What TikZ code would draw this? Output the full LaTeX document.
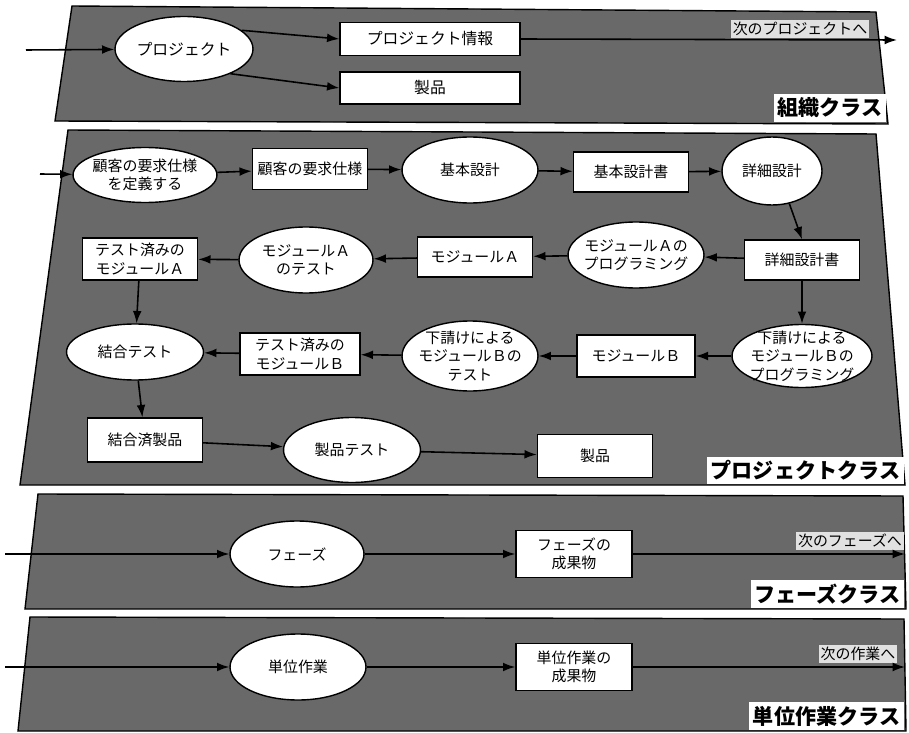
\documentclass[tikz,border=0pt]{standalone}
\usepackage{fontspec}
\setmainfont{Noto Sans CJK JP}
\usepackage{tikz}
\usetikzlibrary{shapes.geometric, arrows.meta}
\definecolor{screen}{RGB}{105,105,105}
\definecolor{screenlt}{RGB}{225,225,225}

\begin{document}
\begin{tikzpicture}[x=0.02cm, y=-0.02cm,
    act/.style={ellipse, draw, thick, fill=white, inner sep=-1.2mm, align=center,
                minimum width=2.72cm, minimum height=1.32cm,
                font=\fontsize{8.5}{10.5}\selectfont},
    prod/.style={rectangle, draw, thick, fill=white, inner sep=1pt, align=center,
                 minimum width=2.3cm, minimum height=0.84cm,
                 font=\fontsize{8.5}{10.5}\selectfont},
    flow/.style={-{Latex[length=7pt,width=5pt]}, line width=0.9pt},
    band/.style={fill=screen, draw=black, line width=0.8pt},
    cls/.style={fill=white, inner sep=2pt, anchor=south east,
                font=\fontsize{12}{14}\selectfont\bfseries},
    nxt/.style={fill=screenlt, inner sep=1pt, font=\fontsize{8.5}{9}\selectfont}]

\useasboundingbox (0,0) rectangle (909,733);

%% Class bands
\draw[band] (72,6) -- (876,12) -- (888,124) -- (55,121) -- cycle;
\draw[band] (68,130) -- (876,134) -- (905,485) -- (20,485) -- cycle;
\draw[band] (38,494) -- (903,496) -- (906,609) -- (25,609) -- cycle;
\draw[band] (30,617) -- (904,619) -- (906,731) -- (18,731) -- cycle;

%% ── 組織クラス ───────────────────────────────────────────────────────
\coordinate (projin)  at (26,50);
\coordinate (projout) at (897,40);
\node[act, minimum width=2.76cm, minimum height=1.3cm,
      font=\fontsize{9}{10}\selectfont] (proj) at (184,49) {プロジェクト};
\node[prod, minimum width=3.6cm, minimum height=0.66cm,
      font=\fontsize{9}{10}\selectfont] (pinfo) at (430,39) {プロジェクト情報};
\node[prod, minimum width=3.6cm, minimum height=0.64cm,
      font=\fontsize{9}{10}\selectfont] (pprod) at (430,88) {製品};
\node[nxt] (nxtproj) at (800,29) {次のプロジェクトへ};
\node[cls] (orgcls) at (886,122) {組織クラス};

\draw[flow] (projin) -- (proj);
\draw[flow] (proj.18) -- (pinfo.west);
\draw[flow] (proj.-28) -- (pprod.west);
\draw[flow] (pinfo.east) -- (projout);

%% ── プロジェクトクラス ───────────────────────────────────────────────
\coordinate (reqin) at (40,174);

%% row 1
\node[act, minimum width=2.88cm, minimum height=1.1cm] (req) at (145,175) {顧客の要求仕様\\を定義する};
\node[prod, minimum height=0.82cm] (reqdoc) at (310,169) {顧客の要求仕様};
\node[act] (bdes) at (470,170) {基本設計};
\node[prod, minimum height=0.8cm] (bdoc) at (631,172) {基本設計書};
\node[act, minimum width=2.0cm, minimum height=1.36cm] (ddes) at (772,171) {詳細設計};

%% row 2
\node[prod, minimum height=0.8cm] (ddoc) at (802,260) {詳細設計書};
\node[act] (progA) at (636,255) {モジュールＡの\\プログラミング};
\node[prod, minimum height=0.8cm] (modA) at (475,257) {モジュールＡ};
\node[act, minimum width=2.68cm] (testA) at (306,260) {モジュールＡ\\のテスト};
\node[prod] (doneA) at (140,259) {テスト済みの\\モジュールＡ};

%% row 3
\node[act, minimum width=2.74cm, minimum height=1.12cm] (integ) at (135,352) {結合テスト};
\node[prod, minimum width=2.4cm] (doneB) at (300,354) {テスト済みの\\モジュールＢ};
\node[act, minimum height=1.4cm] (testB) at (470,356) {下請けによる\\モジュールＢの\\テスト};
\node[prod, minimum width=2.36cm] (modB) at (636,356) {モジュールＢ};
\node[act, minimum width=2.8cm, minimum height=1.26cm] (progB) at (802,356) {下請けによる\\モジュールＢの\\プログラミング};

%% row 4
\node[prod, minimum height=0.88cm] (integd) at (145,440) {結合済製品};
\node[act, minimum width=2.74cm, minimum height=1.3cm] (ptest) at (352,450) {製品テスト};
\node[prod, minimum height=0.86cm] (prod) at (595,456) {製品};

\node[cls] (projcls) at (904,484) {プロジェクトクラス};

\draw[flow] (reqin) -- (req);
\draw[flow] (req) -- (reqdoc);
\draw[flow] (reqdoc) -- (bdes);
\draw[flow] (bdes) -- (bdoc);
\draw[flow] (bdoc) -- (ddes);
\draw[flow] (ddes.-62) -- (ddoc.north);
\draw[flow] (ddoc) -- (progA);
\draw[flow] (progA) -- (modA);
\draw[flow] (modA) -- (testA);
\draw[flow] (testA) -- (doneA);
\draw[flow] (doneA) -- (integ);
\draw[flow] (ddoc) -- (progB);
\draw[flow] (progB) -- (modB);
\draw[flow] (modB) -- (testB);
\draw[flow] (testB) -- (doneB);
\draw[flow] (doneB) -- (integ);
\draw[flow] (integ) -- (integd);
\draw[flow] (integd) -- (ptest);
\draw[flow] (ptest) -- (prod);

%% ── フェーズクラス ───────────────────────────────────────────────────
\coordinate (phin)  at (5,554);
\coordinate (phout) at (905,554);
\node[act, minimum width=2.68cm, font=\fontsize{8.5}{10}\selectfont] (phase) at (297,554) {フェーズ};
\node[prod, minimum width=2.32cm, minimum height=0.94cm,
      font=\fontsize{8.5}{10.5}\selectfont] (phres) at (574,554) {フェーズの\\成果物};
\node[nxt] (nxtph) at (850,541) {次のフェーズへ};
\node[cls] (phcls) at (904,608) {フェーズクラス};

\draw[flow] (phin) -- (phase);
\draw[flow] (phase) -- (phres);
\draw[flow] (phres) -- (phout);

%% ── 単位作業クラス ───────────────────────────────────────────────────
\coordinate (wkin)  at (5,667);
\coordinate (wkout) at (905,667);
\node[act, font=\fontsize{8.5}{10}\selectfont] (work) at (298,667) {単位作業};
\node[prod, minimum width=2.32cm, minimum height=0.94cm,
      font=\fontsize{8.5}{10.5}\selectfont] (wkres) at (574,667) {単位作業の\\成果物};
\node[nxt] (nxtwk) at (858,654) {次の作業へ};
\node[cls] (wkcls) at (904,730) {単位作業クラス};

\draw[flow] (wkin) -- (work);
\draw[flow] (work) -- (wkres);
\draw[flow] (wkres) -- (wkout);

\end{tikzpicture}
\end{document}
